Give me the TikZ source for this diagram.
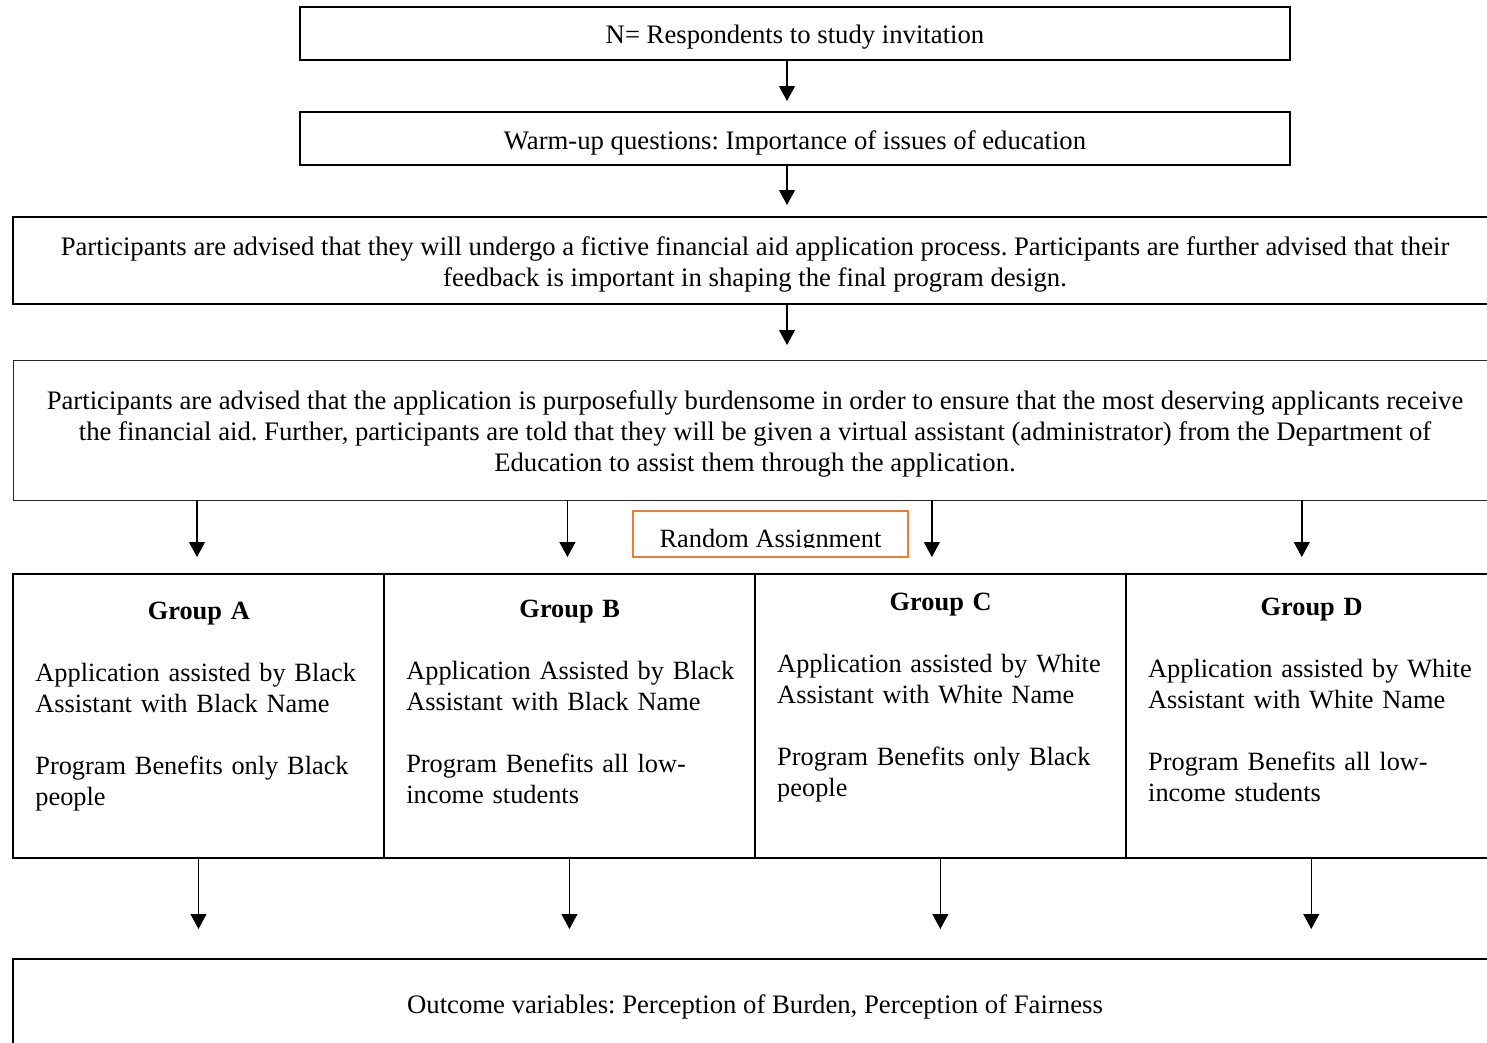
\documentclass[tikz,border=0pt]{standalone}
\usepackage{fontspec}
\setmainfont{Liberation Serif}
\usetikzlibrary{arrows.meta, calc, positioning}
\definecolor{assignorange}{RGB}{237,125,49}
\frenchspacing
% centred text set a little below the middle of its box
\newcommand{\droptext}[2][29.68cm]{\raisebox{-2.3pt}[\height][\depth]{\parbox{#1}{\centering #2}}}

\begin{document}
\begin{tikzpicture}[x=0.02cm, y=-0.02cm,
        font=\fontsize{15}{17.6}\selectfont,
        stagebox/.style={draw, line width=1.1pt, inner sep=0pt, outer sep=0pt, font=\fontsize{15.2}{17.6}\selectfont},
        groupbox/.style={draw, line width=1.3pt, minimum width=7.42cm, minimum height=5.68cm, inner sep=0pt, outer sep=0pt},
        grouptext/.style={anchor=north west, text width=7cm, inner sep=0pt},
        arr/.style={-{Triangle[width=9pt, length=8.5pt]}, line width=0.8pt}]

        \useasboundingbox (0,0) rectangle (1487,1042);
        \clip (0,0) rectangle (1487,1042);

        % stages before the split
        \node[stagebox, minimum width=19.8cm, minimum height=1.06cm] (resp) at (795,33.5)
            {\droptext[19.8cm]{N= Respondents to study invitation}};
        \node[stagebox, minimum width=19.8cm, minimum height=1.06cm] (warm) at (795,138.5)
            {\droptext[19.8cm]{Warm-up questions: Importance of issues of education}};
        \node[stagebox, line width=1.3pt, minimum width=29.68cm, minimum height=1.74cm] (advone) at (755,260.5)
            {\droptext{Participants are advised that they will undergo a fictive financial aid application process. Participants are further advised that their\\
             feedback is important in shaping the final program design.}};
        \node[stagebox, line width=0.5pt, draw=black!85, minimum width=29.68cm, minimum height=2.8cm] (advtwo) at (755,430)
            {\droptext{Participants are advised that the application is purposefully burdensome in order to ensure that the most deserving applicants receive\\
             the financial aid. Further, participants are told that they will be given a virtual assistant (administrator) from the Department of\\
             Education to assist them through the application.}};

        \coordinate (spine) at ([xshift=-0.16cm]resp.south);
        \draw[arr, shorten >=0.22cm] (spine) -- (spine |- warm.north);
        \draw[arr, shorten >=0.24cm] (spine |- warm.south) -- (spine |- advone.north);
        \draw[arr, shorten >=0.30cm] (spine |- advone.south) -- (spine |- advtwo.north);

        % random assignment (text cut at the box edge)
        \begin{scope}
            \clip (633,511) rectangle (908,547.5);
            \node[anchor=base, inner sep=0pt] (randtext) at (770.5,547) {Random Assignment};
        \end{scope}
        \node[draw=assignorange, line width=1.2pt, minimum width=5.5cm, minimum height=0.92cm, outer sep=0pt] (rand) at (770.5,534) {};

        % the four groups
        \node[groupbox] (grpA) at (198.5,716) {};
        \node[groupbox, right=0pt of grpA] (grpB) {};
        \node[groupbox, right=0pt of grpB] (grpC) {};
        \node[groupbox, right=0pt of grpC] (grpD) {};

        \node[grouptext] (txtA) at ([shift={(0.44cm,-0.466cm)}]grpA.north west)
            {\parbox{6.54cm}{\centering\bfseries\strut Group A}\par\vspace{\baselineskip}
             Application assisted by Black\\ Assistant with Black Name\par\vspace{\baselineskip}
             Program Benefits only Black\\ people};
        \node[grouptext] (txtB) at ([shift={(0.44cm,-0.426cm)}]grpB.north west)
            {\parbox{6.54cm}{\centering\bfseries\strut Group B}\par\vspace{\baselineskip}
             Application Assisted by Black\\ Assistant with Black Name\par\vspace{\baselineskip}
             Program Benefits all low-\\ income students};
        \node[grouptext] (txtC) at ([shift={(0.44cm,-0.286cm)}]grpC.north west)
            {\parbox{6.54cm}{\centering\bfseries\strut Group C}\par\vspace{\baselineskip}
             Application assisted by White\\ Assistant with White Name\par\vspace{\baselineskip}
             Program Benefits only Black\\ people};
        \node[grouptext] (txtD) at ([shift={(0.44cm,-0.386cm)}]grpD.north west)
            {\parbox{6.54cm}{\centering\bfseries\strut Group D}\par\vspace{\baselineskip}
             Application assisted by White\\ Assistant with White Name\par\vspace{\baselineskip}
             Program Benefits all low-\\ income students};

        \node[stagebox, line width=1.3pt, minimum width=29.68cm, minimum height=1.92cm] (outcome) at (755,1007)
            {Outcome variables: Perception of Burden, Perception of Fairness};

        % split and join arrows
        \foreach \g/\dx in {A/-0.03cm, B/-0.04cm, C/-0.17cm, D/-0.19cm}
            \draw[arr, shorten >=0.34cm] ([xshift=\dx]advtwo.south -| grp\g.north) -- ([xshift=\dx]grp\g.north);
        \foreach \g in {A,B,C,D}
            \draw[arr, shorten >=0.6cm] (grp\g.south) -- (grp\g.south |- outcome.north);

\end{tikzpicture}
\end{document}
